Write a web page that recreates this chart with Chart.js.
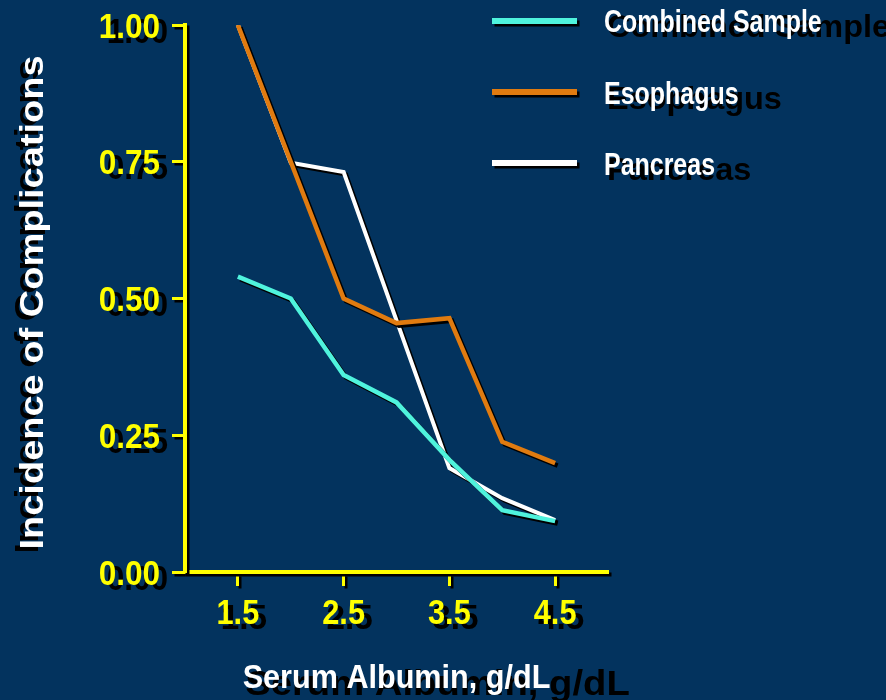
<!DOCTYPE html>
<html>
<head>
<meta charset="utf-8">
<script src="https://cdn.jsdelivr.net/npm/chart.js@4.4.1/dist/chart.umd.min.js"></script>
<style>
  html, body { margin: 0; padding: 0; background: #03335e; }
  #wrap { width: 886px; height: 700px; position: relative; }
</style>
</head>
<body>
<div id="wrap"><canvas id="chart"></canvas></div>
<script>
// ── Data ──────────────────────────────────────────────────────────────────────
const albumin   = [1.5, 2.0, 2.5, 3.0, 3.5, 4.0, 4.5];
const combined  = [0.54, 0.50, 0.36, 0.31, 0.205, 0.113, 0.093];
const esophagus = [1.00, 0.75, 0.50, 0.455, 0.464, 0.238, 0.199];
const pancreas  = [1.00, 0.748, 0.731, 0.46, 0.19, 0.135, 0.095];
const xTicks    = [1.5, 2.5, 3.5, 4.5];
const yTicks    = [0, 0.25, 0.5, 0.75, 1.0];
const xTitle    = 'Serum Albumin, g/dL';
const yTitle    = 'Incidence of Complications';

const YELLOW = '#ffff00';
const FAMILY = "'Liberation Sans', Arial, sans-serif";

const pts = arr => albumin.map((x, i) => ({ x, y: arr[i] }));

// the slide font is a condensed Arial, so squeeze Liberation Sans a bit
function txt(ctx, s, x, y, o) {
  ctx.save();
  ctx.font = `bold ${o.size}px ${FAMILY}`;
  ctx.fillStyle = o.color;
  ctx.textAlign = o.align || 'left';
  ctx.textBaseline = 'alphabetic';
  ctx.translate(x, y);
  if (o.rot) ctx.rotate(o.rot);
  ctx.scale(o.sx || 1, o.sy || 1);
  ctx.fillText(s, 0, 0);
  ctx.restore();
}

// all texts, plus the black enlarged "copy" shadows the slide export has
function drawTexts(chart, shadow) {
  const { ctx, scales: { x, y } } = chart;
  const c = shadow ? '#000' : null;

  // y tick labels
  const yLabelX = y.right - 13 - 12;
  yTicks.forEach(v => {
    const py = y.getPixelForValue(v) + 12.5;
    if (shadow) txt(ctx, v.toFixed(2), yLabelX + 8, py + 5, { size: 35, sx: 0.9, align: 'right', color: c });
    else        txt(ctx, v.toFixed(2), yLabelX, py, { size: 35, sx: 0.9, align: 'right', color: YELLOW });
  });

  // x tick labels
  xTicks.forEach(v => {
    const px = x.getPixelForValue(v);
    if (shadow) txt(ctx, String(v), px + 6, 623.5 + 5, { size: 35, sx: 0.88 * 1.08, align: 'center', color: c });
    else        txt(ctx, String(v), px, 623.5, { size: 35, sx: 0.88, align: 'center', color: YELLOW });
  });

  // x title
  const cx = (x.left + x.right) / 2;
  if (shadow) txt(ctx, xTitle, cx + 41, 688 + 7, { size: 34, sx: 0.9 * 1.25, sy: 1.03, align: 'center', color: c });
  else        txt(ctx, xTitle, cx, 688, { size: 34, sx: 0.9, align: 'center', color: '#fff' });

  // y title (rotated)
  const cy = (y.top + y.bottom) / 2 + 4;
  if (shadow) txt(ctx, yTitle, 43 - 5, cy + 4, { size: 38, sy: 0.87, rot: -Math.PI / 2, align: 'center', color: c });
  else        txt(ctx, yTitle, 43, cy, { size: 38, sy: 0.87, rot: -Math.PI / 2, align: 'center', color: '#fff' });

  // legend labels
  chart.data.datasets.forEach((ds, i) => {
    const by = 32 + i * 71.5;
    if (shadow) txt(ctx, ds.label, 607, by + 5, { size: 32, sx: 0.78 * 1.3, color: c });
    else        txt(ctx, ds.label, 604, by, { size: 32, sx: 0.78, color: '#fff' });
  });
}

const slideLook = {
  id: 'slideLook',
  beforeDraw(chart) {
    const { ctx } = chart;
    drawTexts(chart, true);
    // drop shadow for lines, axes and ticks
    ctx.shadowColor = '#000';
    ctx.shadowOffsetX = 2.5;
    ctx.shadowOffsetY = 2.5;
    ctx.shadowBlur = 0;
  },
  afterDraw(chart) {
    const { ctx } = chart;
    // legend swatches (still with drop shadow)
    chart.data.datasets.forEach((ds, i) => {
      const yy = 21 + i * 71;
      ctx.save();
      ctx.strokeStyle = ds.borderColor;
      ctx.lineWidth = 6;
      ctx.beginPath();
      ctx.moveTo(492, yy);
      ctx.lineTo(577, yy);
      ctx.stroke();
      ctx.restore();
    });
    ctx.shadowColor = 'rgba(0,0,0,0)';
    ctx.shadowOffsetX = 0;
    ctx.shadowOffsetY = 0;
    drawTexts(chart, false);
  },
};

new Chart(document.getElementById('chart'), {
  type: 'line',
  data: {
    datasets: [
      { label: 'Combined Sample', data: pts(combined),  borderColor: '#4ff3dd', borderWidth: 4.5, order: 1 },
      { label: 'Esophagus',       data: pts(esophagus), borderColor: '#e07b10', borderWidth: 4.5, order: 0 },
      { label: 'Pancreas',        data: pts(pancreas),  borderColor: '#ffffff', borderWidth: 4,   order: 2 },
    ],
  },
  options: {
    responsive: true,
    maintainAspectRatio: false,
    animation: false,
    layout: { padding: { top: 25, right: 278, left: 0, bottom: 0 } },
    elements: {
      point: { radius: 0, hoverRadius: 0 },
      line:  { tension: 0, fill: false, borderJoinStyle: 'miter', borderCapStyle: 'butt' },
    },
    plugins: {
      legend:  { display: false },
      tooltip: { enabled: false },
    },
    scales: {
      x: {
        type: 'linear',
        min: 1,
        max: 5,
        afterFit: s => { s.height = 128; },
        afterBuildTicks: s => { s.ticks = xTicks.map(v => ({ value: v })); },
        border: { display: true, color: YELLOW, width: 4 },
        grid: { drawOnChartArea: false, drawTicks: true, tickLength: 14, tickColor: YELLOW, tickWidth: 3 },
        ticks: { display: false },
      },
      y: {
        min: 0,
        max: 1,
        afterFit: s => { s.width = 185; },
        afterBuildTicks: s => { s.ticks = yTicks.map(v => ({ value: v })); },
        border: { display: true, color: YELLOW, width: 4 },
        grid: { drawOnChartArea: false, drawTicks: true, tickLength: 13, tickColor: YELLOW, tickWidth: 3 },
        ticks: { display: false },
      },
    },
  },
  plugins: [slideLook],
});
</script>
</body>
</html>
